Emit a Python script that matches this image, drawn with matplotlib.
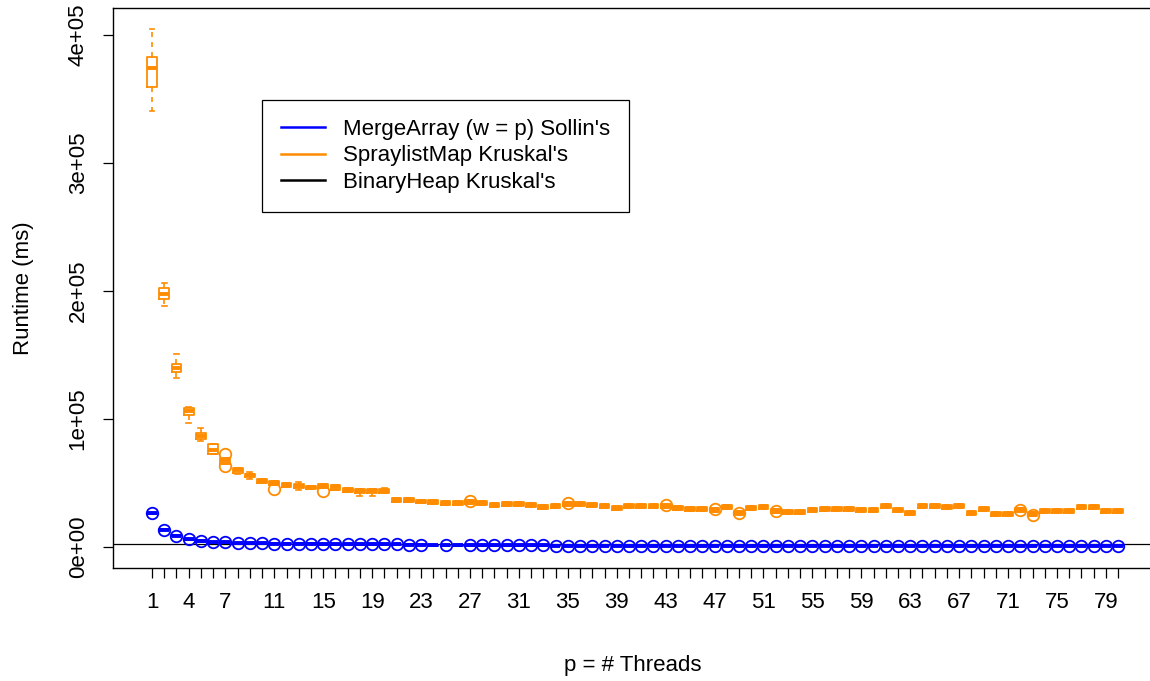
"""Runtime of MST algorithms vs. number of threads (boxplots per thread count)"""
import matplotlib
matplotlib.use("Agg")
import matplotlib.pyplot as plt
from matplotlib.lines import Line2D

plt.rcParams['font.family'] = ['Liberation Sans', 'DejaVu Sans']

threads = list(range(1, 81))
tick_labels_at = [1, 4, 7] + list(range(11, 80, 4))

# SpraylistMap Kruskal's (orange) - median and box edges, ms
orange_med = [374200, 198000, 140100, 106500, 86900, 75500, 67300, 60300, 56400, 51700,
              50100, 48500, 47800, 47000, 47800, 46600, 44600, 43800, 43800, 43800,
              36800, 36800, 35500, 35200, 34700, 34400, 35200, 34700, 33100, 33900,
              33900, 33100, 31500, 32300, 33400, 33400, 32600, 31900, 30500, 32100,
              32100, 32300, 32100, 30800, 30000, 30000, 29000, 31500, 26800, 30800,
              31300, 28200, 27400, 27200, 29000, 29700, 29500, 29700, 29200, 28700,
              31900, 29000, 26600, 31900, 31900, 31300, 31900, 26400, 29500, 25800,
              25800, 28700, 25600, 28400, 28400, 28400, 31100, 31100, 28200, 28200]
orange_q1 = [359300, 194100, 137000, 103300, 84500, 72800, 65000, 57900, 54800, 50100,
             48500, 46900, 46200, 45400, 46200, 44600, 43100, 42300, 42300, 42300,
             35300, 35300, 34000, 33700, 33200, 32900, 33700, 33200, 31600, 32400,
             32400, 31600, 30000, 30800, 31900, 31900, 31100, 30400, 29000, 30600,
             30600, 30800, 30600, 29300, 28500, 28500, 27500, 30000, 25300, 29300,
             29800, 26700, 25900, 25700, 27500, 28200, 28000, 28200, 27700, 27200,
             30400, 27500, 25100, 30400, 30400, 29800, 30400, 24900, 28000, 24300,
             24300, 27200, 24100, 26900, 26900, 26900, 29600, 29600, 26700, 26700]
orange_q3 = [382800, 202000, 143300, 108800, 89200, 80600, 69700, 61800, 57100, 53200,
             51700, 50100, 49300, 47800, 49300, 48500, 46200, 45400, 45400, 45400,
             38300, 38300, 37000, 36700, 36200, 35900, 36700, 36200, 34600, 35400,
             35400, 34600, 33000, 33800, 34900, 34900, 34100, 33400, 32000, 33600,
             33600, 33800, 33600, 32300, 31500, 31500, 30500, 33000, 28300, 32300,
             32800, 29700, 28900, 28700, 30500, 31200, 31000, 31200, 30700, 30200,
             33400, 30500, 28100, 33400, 33400, 32800, 33400, 27900, 31000, 27300,
             27300, 30200, 27100, 29900, 29900, 29900, 32600, 32600, 29700, 29700]
# whiskers that reach beyond the box (others end at the box)
orange_whisk_lo = {1: 340500, 2: 187900, 3: 132300, 4: 97000, 5: 83000, 8: 57100,
                   9: 53200, 13: 44600, 18: 40000, 19: 40000}
orange_whisk_hi = {1: 404700, 2: 205900, 3: 151000, 4: 109600, 5: 93200, 9: 58700,
                   13: 50900, 20: 46200}
orange_outliers = {7: [72800, 63400], 11: [45400], 15: [43800], 27: [36000],
                   35: [34400], 43: [32500], 47: [29500], 49: [26800], 52: [28200],
                   72: [29200], 73: [25300]}

# MergeArray (w = p) Sollin's (blue) - median and box edges, ms
blue_med = [26300, 13300, 8800, 6200, 4700, 3900, 3700, 3100, 2900, 2900,
            2600, 2600, 2600, 2600, 2300, 2300, 2300, 2300, 2300, 2100,
            2100, 1800, 1600, 1500, 1400, 1400, 1300, 1300, 1300, 1200,
            1200, 1200, 1200, 1100, 1100, 1100, 1100, 1100, 1100, 1100,
            1000, 1000, 1000, 1000, 1000, 1000, 1000, 900, 900, 900,
            900, 900, 900, 900, 900, 900, 900, 900, 900, 900,
            800, 800, 800, 800, 800, 800, 800, 800, 800, 800,
            800, 800, 800, 800, 800, 800, 800, 800, 800, 800]
blue_box_half = 400
blue_no_outlier = [24, 26]

# BinaryHeap Kruskal's (single reference value)
binary_heap = 2500

y_ticks = [0, 100000, 200000, 300000, 400000]
y_tick_labels = ["0e+00", "1e+05", "2e+05", "3e+05", "4e+05"]

BLUE = "#0000ff"
ORANGE = "#ff8c00"
FS = 16


def make_stats(med, q1, q3, lo, hi, fliers):
    stats = []
    for i, p in enumerate(threads):
        stats.append({
            "med": med[i], "q1": q1[i], "q3": q3[i],
            "whislo": lo.get(p, q1[i]), "whishi": hi.get(p, q3[i]),
            "fliers": fliers.get(p, []),
        })
    return stats


def draw_boxes(ax, stats, color):
    ax.bxp(stats, positions=threads, widths=0.8, capwidths=0.4,
           manage_ticks=False, showfliers=True,
           boxprops=dict(color=color, linewidth=1.3),
           medianprops=dict(color=color, linewidth=2.8, solid_capstyle="butt"),
           whiskerprops=dict(color=color, linewidth=1.2, linestyle=(0, (3, 3))),
           capprops=dict(color=color, linewidth=1.2),
           flierprops=dict(marker="o", markerfacecolor="none", markeredgecolor=color,
                           markersize=8.3, markeredgewidth=1.3))


fig = plt.figure(figsize=(11.5, 6.81), dpi=100)
ax = fig.add_axes([113 / 1150, 113 / 681, 1040 / 1150, 560 / 681])

ax.axhline(binary_heap, color="black", linewidth=0.9, zorder=1)

blue_q1 = [m - blue_box_half for m in blue_med]
blue_q3 = [m + blue_box_half for m in blue_med]
blue_fliers = {p: [blue_med[i]] for i, p in enumerate(threads) if p not in blue_no_outlier}
blue_stats = make_stats(blue_med, blue_q1, blue_q3, {}, {}, blue_fliers)
draw_boxes(ax, blue_stats, BLUE)

orange_stats = make_stats(orange_med, orange_q1, orange_q3,
                          orange_whisk_lo, orange_whisk_hi, orange_outliers)
draw_boxes(ax, orange_stats, ORANGE)

ax.set_xlim(1 - 39 / 12.23, 1 + 1001 / 12.23)
ax.set_ylim(-16400, 421100)

ax.set_xticks(threads)
ax.set_xticklabels([str(p) if p in tick_labels_at else "" for p in threads])
ax.set_yticks(y_ticks)
ax.set_yticklabels(y_tick_labels, rotation=90, va="center")
ax.tick_params(axis="both", direction="out", length=7.5, width=0.9, labelsize=FS,
               color="black")
ax.tick_params(axis="x", pad=10)
ax.tick_params(axis="y", pad=10)

for side in ["left", "top", "bottom", "right"]:
    ax.spines[side].set_linewidth(1.0)

ax.set_xlabel("p = # Threads", fontsize=FS, labelpad=30)
ax.set_ylabel("Runtime (ms)", fontsize=FS, labelpad=24)

handles = [Line2D([], [], color=BLUE, linewidth=1.8),
           Line2D([], [], color=ORANGE, linewidth=1.8),
           Line2D([], [], color="black", linewidth=1.8)]
labels = ["MergeArray (w = p) Sollin's", "SpraylistMap Kruskal's", "BinaryHeap Kruskal's"]
leg = ax.legend(handles, labels, loc="upper left",
                bbox_to_anchor=(262 / 1150, 1 - 100 / 681), bbox_transform=fig.transFigure,
                borderaxespad=0, fontsize=FS, frameon=True, fancybox=False,
                edgecolor="black", framealpha=1, handlelength=2.0, handletextpad=0.8,
                borderpad=0.85, labelspacing=0.25)
leg.get_frame().set_linewidth(0.9)

fig.savefig("out.png", dpi=100)
